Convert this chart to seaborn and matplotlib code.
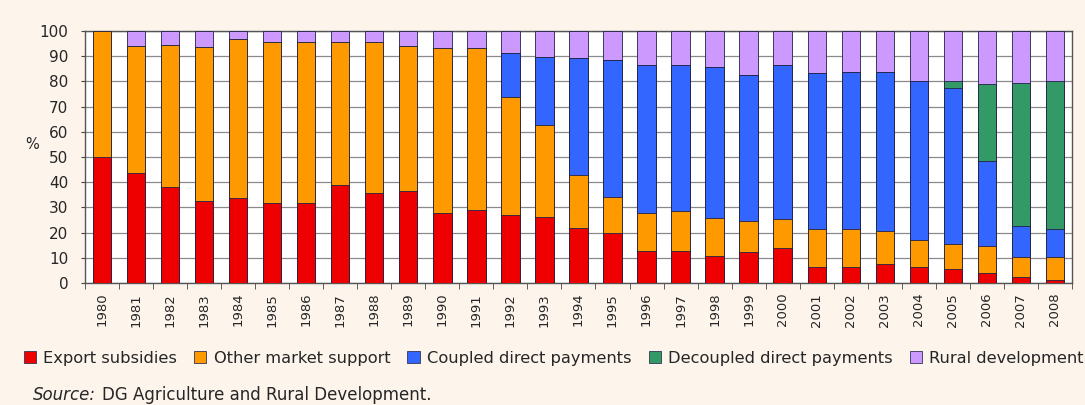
import numpy as np
import pandas as pd
import matplotlib
matplotlib.use("Agg")
import matplotlib.pyplot as plt
import seaborn as sns
from matplotlib.patches import Patch

years = [str(y) for y in range(1980, 2009)]
export_subsidies = [50, 43.5, 38.2, 32.5, 33.9, 31.9, 31.9, 38.9, 35.6, 36.6,
                    28.0, 29.0, 27.2, 26.3, 21.7, 19.7, 12.8, 12.8, 10.7, 12.2,
                    13.8, 6.5, 6.5, 7.4, 6.5, 5.4, 4.1, 2.5, 1.2]
other_market = [50, 50.5, 56.2, 61.3, 62.9, 63.9, 63.9, 56.9, 60.2, 57.4,
                65.1, 64.1, 46.7, 36.4, 21.2, 14.5, 15.2, 15.9, 15.0, 12.4,
                11.6, 14.8, 14.8, 13.2, 10.6, 10.3, 10.6, 7.7, 9.0]
coupled = [0, 0, 0, 0, 0, 0, 0, 0, 0, 0,
           0, 0, 17.5, 27.1, 46.3, 54.3, 58.5, 57.8, 60.1, 57.9,
           61.1, 61.9, 62.3, 63.0, 63.1, 61.8, 33.7, 12.6, 11.1]
decoupled = [0, 0, 0, 0, 0, 0, 0, 0, 0, 0,
             0, 0, 0, 0, 0, 0, 0, 0, 0, 0,
             0, 0, 0, 0, 0, 2.7, 30.6, 56.7, 58.9]
series_names = ["Export subsidies", "Other market support", "Coupled direct payments",
                "Decoupled direct payments", "Rural development"]
colors = ["#ee0000", "#ff9900", "#3366ff", "#339966", "#cc99ff"]

layers = [np.array(export_subsidies), np.array(other_market),
          np.array(coupled), np.array(decoupled)]
rural = 100 - sum(layers)
layers.append(rural)

sns.set_style("white")
plt.rcParams["font.family"] = ["DejaVu Sans"]

txt = "#262626"
bg = "#fdf4ec"
fig = plt.figure(figsize=(10.85, 4.05), dpi=100, facecolor=bg)
ax = fig.add_axes([0.0783, 0.301, 0.9097, 0.6225])
ax.set_facecolor("white")

cum = np.cumsum(np.vstack(layers), axis=0)
df = pd.DataFrame({"year": years})
for i in range(len(layers) - 1, -1, -1):
    df["v"] = cum[i]
    sns.barplot(data=df, x="year", y="v", color=colors[i], saturation=1,
                width=0.54, edgecolor="#222244", linewidth=0.6,
                errorbar=None, ax=ax, zorder=3)

ax.set_ylim(0, 100)
ax.set_xlim(-0.5, len(years) - 0.5)
ax.set_yticks(range(0, 101, 10))
ax.yaxis.grid(True, color="#8a8a8a", linewidth=0.9, zorder=0)
ax.set_axisbelow(True)
ax.set_xlabel("")
ax.set_ylabel("%", rotation=0, fontsize=10.5, color=txt)
ax.yaxis.set_label_coords(-0.054, 0.52)

ax.set_xticks(range(len(years)))
ax.set_xticklabels(years, rotation=90, fontsize=9.5, color=txt)
ax.set_xticks(np.arange(-0.5, len(years), 1), minor=True)
ax.tick_params(axis="x", which="major", length=0, pad=7)
ax.tick_params(axis="x", which="minor", length=4, color="#444444", direction="out")
ax.tick_params(axis="y", length=3, color="#444444", direction="out", labelsize=11,
               labelcolor=txt, pad=9)
ax.tick_params(bottom=True, left=True, which="both")
for s in ax.spines.values():
    s.set_color("#555555")
    s.set_linewidth(1.0)

handles = [Patch(facecolor=c, edgecolor="#333355", linewidth=0.6) for c in colors]
fig.legend(handles, series_names, loc="lower left", bbox_to_anchor=(0.016, 0.08),
           ncol=5, frameon=False, fontsize=11.7, handlelength=0.75, handleheight=0.75,
           handletextpad=0.45, columnspacing=1.05, borderaxespad=0, labelcolor=txt)

t1 = fig.text(0.03, 0.012, "Source:", fontsize=12, style="italic", color=txt)
fig.canvas.draw()
bb = t1.get_window_extent()
x2 = (bb.x1 + 6) / fig.bbox.width
fig.text(x2, 0.012, "DG Agriculture and Rural Development.", fontsize=12, color=txt)

fig.savefig("out.png", dpi=100, facecolor=bg)
